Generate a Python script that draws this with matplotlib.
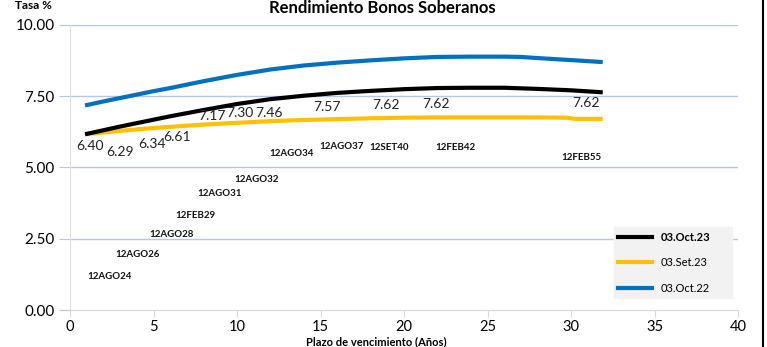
import matplotlib.pyplot as plt
from matplotlib.lines import Line2D

plt.rcParams['font.family'] = ['Lato', 'DejaVu Sans']

# Curvas de rendimiento (plazo en años, tasa %)
plazo_oct23 = [0.9, 2, 3, 4, 5, 6, 8, 10, 12, 14, 16, 18, 20, 22, 24, 26, 28, 30, 31.9]
tasa_oct23 = [6.16, 6.30, 6.43, 6.55, 6.67, 6.79, 7.01, 7.22, 7.39, 7.51, 7.61, 7.68,
              7.74, 7.78, 7.79, 7.79, 7.75, 7.70, 7.63]

plazo_set23 = [0.9, 2, 3, 4, 5, 6, 8, 10, 12, 14, 16, 18, 20, 22, 24, 26, 28, 29.8, 30.2, 31.9]
tasa_set23 = [6.16, 6.22, 6.28, 6.33, 6.38, 6.42, 6.50, 6.56, 6.62, 6.66, 6.69, 6.72,
              6.74, 6.75, 6.75, 6.75, 6.75, 6.74, 6.70, 6.70]

plazo_oct22 = [0.9, 2, 3, 4, 5, 6, 8, 10, 12, 14, 16, 18, 20, 22, 24, 26, 27, 28, 30, 31.9]
tasa_oct22 = [7.17, 7.31, 7.43, 7.55, 7.67, 7.78, 8.02, 8.24, 8.43, 8.57, 8.67, 8.75,
              8.82, 8.87, 8.88, 8.88, 8.87, 8.83, 8.76, 8.69]

# Etiquetas de rendimiento de cada bono
valores = ['6.40', '6.29', '6.34', '6.61', '7.17', '7.30', '7.46', '7.57', '7.62', '7.62', '7.62']
valores_x = [1.2, 3.0, 4.9, 6.4, 8.5, 10.2, 11.9, 15.4, 18.9, 21.9, 30.9]
valores_y = [5.75, 5.55, 5.82, 6.08, 6.81, 6.90, 6.90, 7.13, 7.19, 7.23, 7.27]

bonos = ['12AGO24', '12AGO26', '12AGO28', '12FEB29', '12AGO31', '12AGO32',
         '12AGO34', '12AGO37', '12SET40', '12FEB42', '12FEB55']
bonos_x = [2.35, 4.03, 6.09, 7.53, 8.98, 11.18, 13.28, 16.27, 19.12, 23.05, 30.64]
bonos_y = [1.17, 1.93, 2.63, 3.31, 4.07, 4.59, 5.50, 5.73, 5.70, 5.70, 5.36]

fig = plt.figure(figsize=(7.67, 3.47), dpi=100)
ax = fig.add_axes([70 / 767, 37 / 347, 668 / 767, 285.3 / 347])

ax.plot(plazo_oct23, tasa_oct23, color='black', lw=3, solid_capstyle='butt', zorder=3)
ax.plot(plazo_set23, tasa_set23, color='#FFC000', lw=3, solid_capstyle='butt', zorder=2)
ax.plot(plazo_oct22, tasa_oct22, color='#0070C0', lw=3, solid_capstyle='butt', zorder=2)

for t, x, y in zip(valores, valores_x, valores_y):
    ax.text(x, y, t, fontsize=10, ha='center', va='center', color='#222222')
for t, x, y in zip(bonos, bonos_x, bonos_y):
    ax.text(x, y, t, fontsize=7, fontweight='bold', ha='center', va='center', color='#111111')

ax.set_xlim(0, 40)
ax.set_ylim(0, 10)
ax.set_xticks(range(0, 41, 5))
ax.set_yticks([0, 2.5, 5, 7.5, 10])
ax.set_yticklabels(['0.00', '2.50', '5.00', '7.50', '10.00'])
ax.tick_params(axis='y', length=8, color='#b4c7e7', labelsize=11, pad=3)
ax.tick_params(axis='x', length=5, color='#d9d9d9', labelsize=10.5, pad=2, direction='out')

for y in [2.5, 5, 7.5, 10]:
    ax.axhline(y, color='#b4c7e7', lw=1, zorder=1)
for s in ['top', 'right']:
    ax.spines[s].set_visible(False)
ax.spines['left'].set_color('#e0e0e0')
ax.spines['bottom'].set_color('#d9d9d9')

# Leyenda con fondo gris
handles = [Line2D([], [], color='black', lw=3),
           Line2D([], [], color='#FFC000', lw=3),
           Line2D([], [], color='#0070C0', lw=3)]
leg = ax.legend(handles, ['03.Oct.23', '03.Set.23', '03.Oct.22'],
                loc='lower left', bbox_to_anchor=(544 / 668, 12 / 285.3, 118 / 668, 82 / 285.3),
                mode='expand', fontsize=8, frameon=True, fancybox=False,
                facecolor='#f2f2f2', edgecolor='#f2f2f2', framealpha=1,
                handlelength=3, labelspacing=1.3, borderaxespad=0)
leg.get_texts()[0].set_fontweight('bold')

fig.text(382 / 767, 1.0, 'Rendimiento Bonos Soberanos', fontsize=12, fontweight='bold',
         ha='center', va='top')
fig.text(33 / 767, 1.0, 'Tasa %', fontsize=8.5, fontweight='bold', ha='center', va='top')
fig.text(376 / 767, 0.0, 'Plazo de vencimiento (Años)', fontsize=8, fontweight='bold',
         ha='center', va='bottom')
fig.add_artist(Line2D([763 / 767, 763 / 767], [0, 1], color='black', lw=1.5))

fig.savefig('out.png', dpi=100)
